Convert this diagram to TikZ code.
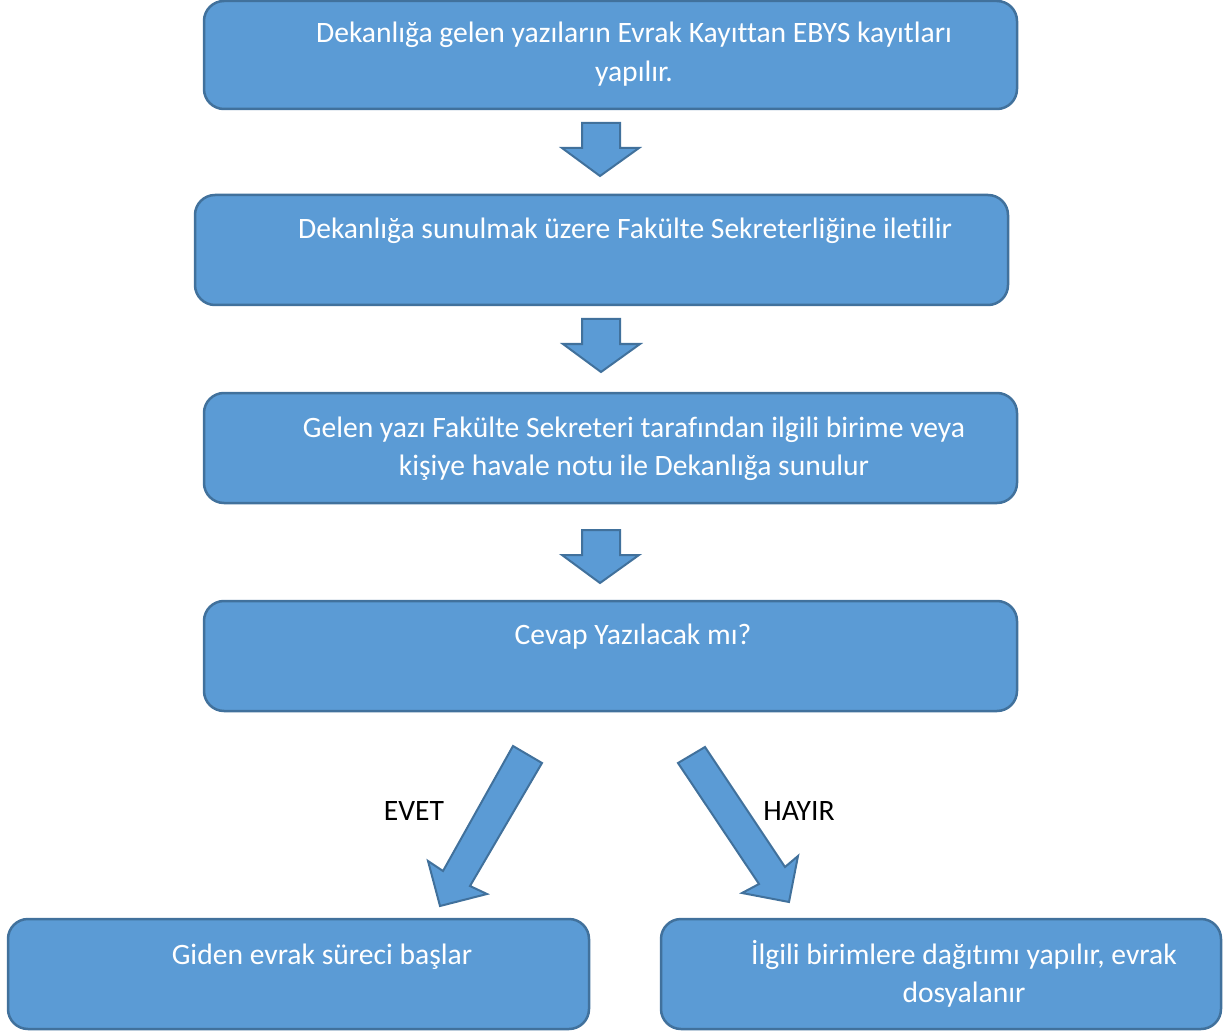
\documentclass[tikz,border=0pt]{standalone}
\usepackage{fontspec}
\setmainfont[Ligatures=NoCommon]{Carlito}
\definecolor{boxfill}{HTML}{5B9BD5}
\definecolor{boxline}{HTML}{41719C}
\tikzset{
  flowbox/.style={draw=boxline, fill=boxfill, line width=2.5pt, rounded corners=20pt},
  blockarrow/.style={draw=boxline, fill=boxfill, line width=2pt, line join=miter},
  wtxt/.style={text=white, anchor=base, inner sep=0pt, font=\fontsize{29.6}{39}\selectfont},
  btxt/.style={text=black, anchor=base, inner sep=0pt, font=\fontsize{29.6}{39}\selectfont},
}
\begin{document}
\begin{tikzpicture}[x=1pt, y=-1pt]
\useasboundingbox (0,0) rectangle (1229,1032);
% boxes
\draw[flowbox] (204,1) rectangle (1017,109);
\draw[flowbox] (195,195) rectangle (1008,305);
\draw[flowbox] (204,393) rectangle (1017,503);
\draw[flowbox] (204,601) rectangle (1017,711);
\draw[flowbox] (8,919) rectangle (589,1029);
\draw[flowbox] (661,919) rectangle (1221,1029);
% texts
\node[wtxt] (t1a) at (634,43) {Dekanlığa gelen yazıların Evrak Kayıttan EBYS kayıtları};
\node[wtxt] (t1b) at (634,82) {yapılır.};
\node[wtxt] (t2) at (625,239) {Dekanlığa sunulmak üzere Fakülte Sekreterliğine iletilir};
\node[wtxt] (t3a) at (634,437) {Gelen yazı Fakülte Sekreteri tarafından ilgili birime veya};
\node[wtxt] (t3b) at (634,475) {kişiye havale notu ile Dekanlığa sunulur};
\node[wtxt] (t4) at (633,644) {Cevap Yazılacak mı?};
\node[wtxt] (t5) at (322,964) {Giden evrak süreci başlar};
\node[wtxt] (t6a) at (964,964) {İlgili birimlere dağıtımı yapılır, evrak};
\node[wtxt] (t6b) at (964,1002) {dosyalanır};
\node[btxt] (evet) at (414,820) {EVET};
\node[btxt] (hayir) at (799,820) {HAYIR};
% down block arrows
\draw[blockarrow] (582,123) -- (620,123) -- (620,148) -- (639,148) -- (600,176) -- (562,148) -- (582,148) -- cycle;
\draw[blockarrow] (582,319) -- (620,319) -- (620,344) -- (640,344) -- (601,372) -- (563,344) -- (582,344) -- cycle;
\draw[blockarrow] (582,530) -- (620,530) -- (620,555) -- (639,555) -- (600,583) -- (562,555) -- (582,555) -- cycle;
% diagonal block arrows
\draw[blockarrow] (513,746) -- (542,763) -- (470,886) -- (487,894) -- (440,906) -- (428,861) -- (443,871) -- cycle;
\draw[blockarrow] (705,747) -- (678,763) -- (759,884) -- (742,893) -- (789,902) -- (798,856) -- (785,867) -- cycle;
\end{tikzpicture}
\end{document}
